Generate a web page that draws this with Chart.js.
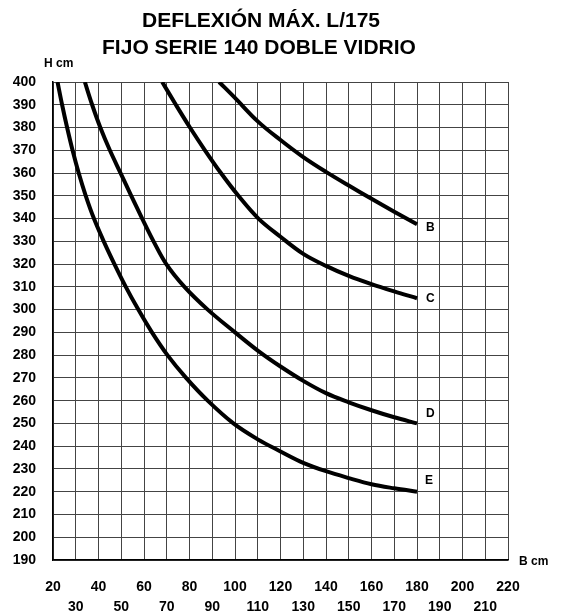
<!DOCTYPE html>
<html>
<head>
<meta charset="utf-8">
<script src="https://cdn.jsdelivr.net/npm/chart.js@4/dist/chart.umd.min.js"></script>
<style>
  html, body { margin: 0; padding: 0; background: #fff; }
  #wrap { width: 561px; height: 616px; position: relative; }
</style>
</head>
<body>
<div id="wrap"><canvas id="deflexion"></canvas></div>
<script>
// curve points, B = width (cm), H = height (cm)
const bB = [93, 100, 110, 120, 130, 140, 150, 160, 170, 180];
const bH = [400, 393, 382.7, 374.5, 367, 360.5, 354.5, 348.7, 343, 337.5];

const cB = [68, 74, 80.2, 86.8, 93.8, 101.5, 110.3, 120, 130, 140, 150, 160, 170, 180];
const cH = [400, 390, 380, 370, 360, 350, 340, 332, 324.5, 319.2, 314.8, 311.2, 308, 305];

const dB = [34, 37.2, 40.8, 45, 49.7, 54.4, 59.2, 64.2, 69.8, 77.8, 88, 100, 110, 120, 130, 140, 150, 160, 170, 180];
const dH = [400, 390, 380, 370, 360, 350, 340, 330, 320, 310, 300, 290, 282, 275, 268.7, 263.3, 259.3, 255.8, 252.7, 250];

const eB = [22, 24, 26.2, 28.6, 31.3, 34.4, 38, 42.3, 47, 52, 57.5, 63.5, 70.3, 78.5, 88, 99.3, 110, 120, 130, 140, 150, 160, 170, 180];
const eH = [400, 390, 380, 370, 360, 350, 340, 330, 320, 310, 300, 290, 280, 270, 260, 250, 243, 237.7, 232.7, 229, 226, 223.3, 221.5, 220];

const curveNames = ['B', 'C', 'D', 'E'];
const titleLines = ['DEFLEXIÓN MÁX. L/175', 'FIJO SERIE 140 DOBLE VIDRIO'];

function toPoints(xs, ys) {
    return xs.map((x, i) => ({ x: x, y: ys[i] }));
}

const series = [toPoints(bB, bH), toPoints(cB, cH), toPoints(dB, dH), toPoints(eB, eH)];
const FONT = 'Arial, "Liberation Sans", sans-serif';

// title, axis names and the letter at the end of each curve
const decorations = {
    id: 'decorations',
    afterDraw(chart) {
        const ctx = chart.ctx;
        const xs = chart.scales.x;
        const ys = chart.scales.y;
        ctx.save();
        ctx.fillStyle = '#000';
        ctx.textAlign = 'center';
        ctx.textBaseline = 'middle';
        ctx.font = 'bold 21px ' + FONT;
        ctx.fillText(titleLines[0], 261, 21);
        ctx.fillText(titleLines[1], 259, 48);

        ctx.font = 'bold 12px ' + FONT;
        ctx.textAlign = 'left';
        ctx.fillText('H cm', 44, 64);
        ctx.fillText('B cm', 519, 562);

        // letters sit just right of the last point
        const offsets = [[9, 3], [9, 0], [9, -10], [8, -11]];
        ctx.font = 'bold 12px ' + FONT;
        series.forEach((pts, i) => {
            const last = pts[pts.length - 1];
            const px = xs.getPixelForValue(last.x) + offsets[i][0];
            const py = ys.getPixelForValue(last.y) + offsets[i][1];
            ctx.fillText(curveNames[i], px, py);
        });
        ctx.restore();
    }
};

new Chart(document.getElementById('deflexion'), {
    type: 'scatter',
    data: {
        datasets: series.map((pts, i) => ({
            label: curveNames[i],
            data: pts,
            showLine: true,
            borderColor: '#000',
            borderWidth: 4,
            borderCapStyle: 'butt',
            pointRadius: 0,
            tension: 0.35,
            fill: false
        }))
    },
    options: {
        responsive: true,
        maintainAspectRatio: false,
        animation: false,
        layout: { padding: { top: 82, right: 53, bottom: 0, left: 0 } },
        plugins: {
            legend: { display: false },
            title: { display: false },
            tooltip: { enabled: false }
        },
        scales: {
            x: {
                type: 'linear',
                min: 20,
                max: 220,
                afterFit(scale) { scale.height = 56; },
                border: { display: true, color: '#000', width: 1.5 },
                grid: { color: '#444', lineWidth: 1, drawTicks: false },
                ticks: {
                    stepSize: 10,
                    padding: 17,
                    maxRotation: 0,
                    autoSkip: false,
                    color: '#000',
                    font: { family: FONT, size: 14, weight: 'bold', lineHeight: '20px' },
                    callback(v) {
                        return (v % 20 === 0) ? [String(v), ''] : ['', String(v)];
                    }
                }
            },
            y: {
                type: 'linear',
                min: 190,
                max: 400,
                afterFit(scale) { scale.width = 53; },
                border: { display: true, color: '#000', width: 1.5 },
                grid: { color: '#444', lineWidth: 1, drawTicks: false },
                ticks: {
                    stepSize: 10,
                    padding: 17,
                    autoSkip: false,
                    color: '#000',
                    font: { family: FONT, size: 14, weight: 'bold' }
                }
            }
        }
    },
    plugins: [decorations]
});
</script>
</body>
</html>
